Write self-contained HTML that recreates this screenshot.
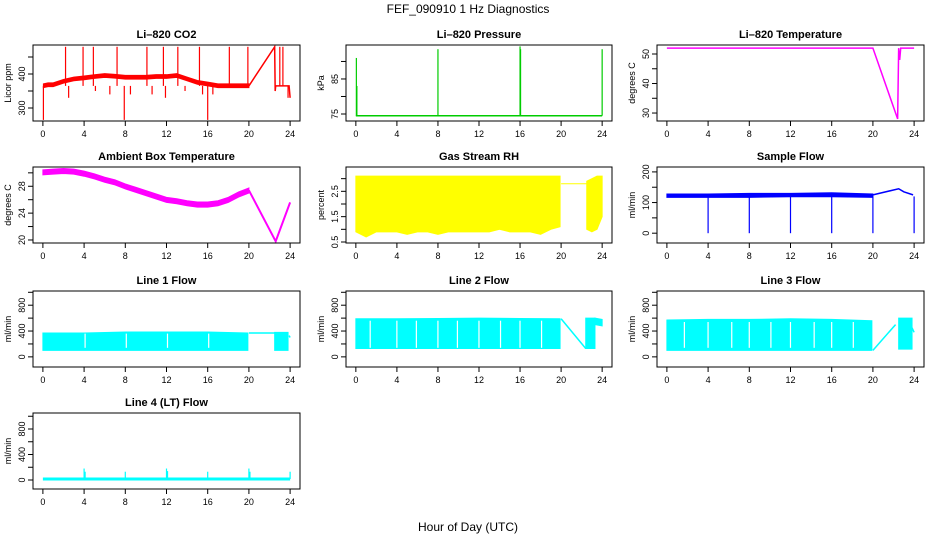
<!DOCTYPE html>
<html><head><meta charset="utf-8"><style>
body{margin:0;background:#fff;}
svg{display:block;font-family:"Liberation Sans",sans-serif;}
</style></head><body>
<svg id="fig" width="936" height="540" viewBox="0 0 936 540">
<text x="468" y="13" text-anchor="middle" font-size="12">FEF_090910  1 Hz Diagnostics</text>
<text x="468" y="531" text-anchor="middle" font-size="12">Hour of Day (UTC)</text>
</svg>
<script>
// ---- data ----
const xTicks = [0,4,8,12,16,20,24];
// CO2
const co2Times = [0.05,0.5,1,2,3,4,5,6,7,8,9,10,11,12,13,14,15,16,17,18,19,20];
const co2Vals  = [365,368,368,378,385,388,392,395,393,390,390,390,392,392,395,385,375,370,365,365,365,365];
const co2Line = [[20,365],[22.5,480],[22.55,350],[22.6,365],[23.9,365],[24,330]];
const co2Spikes = [[0.05,265],[2.2,480],[2.5,330],[3.9,480],[4.9,480],[5.1,350],[6.5,340],[7.2,480],[7.9,265],[8.5,340],[10.1,480],[10.6,340],[11.7,480],[11.9,330],[13.1,480],[13.8,350],[15.2,480],[15.5,340],[16,265],[16.5,340],[18.1,480],[19.9,480],[23,480],[23.3,480],[23.8,330]];
// Pressure
const presLine = [[0,74.5],[24,74.5]];
const presSpikes = [[0.05,91],[0.1,83],[8,93.5],[16,94.3],[16.05,93.5],[24,93.5]];
// Li-820 temperature
const tempLine = [[0,52],[20,52],[22.4,28],[22.5,52],[22.6,48],[22.7,52],[24,52]];
// Ambient
const ambTimes = [0,1,2,3,4,5,6,7,8,9,10,11,12,13,14,15,16,17,18,19,20];
const ambVals  = [30.1,30.2,30.3,30.2,29.9,29.5,29.0,28.6,28.0,27.5,27.0,26.5,26.0,25.8,25.5,25.3,25.3,25.5,26.0,26.8,27.4];
const ambLine = [[20,27.4],[22.6,19.8],[24,25.6]];
// RH
const rhTimes = [0,1,2,3,4,5,6,7,8,9,10,11,12,13,14,15,16,17,18,19,19.9];
const rhLow   = [0.9,0.7,0.9,0.9,0.9,0.8,0.9,0.9,0.8,0.9,0.9,0.9,0.9,0.9,1.0,0.9,0.9,0.9,0.8,1.0,1.1];
const rhHigh  = [3.1,3.1,3.1,3.1,3.1,3.1,3.1,3.1,3.1,3.1,3.1,3.1,3.1,3.1,3.1,3.1,3.1,3.1,3.1,3.1,3.1];
const rhLine = [[20,2.8],[22.5,2.8]];
const rhTimes2 = [22.5,23,23.5,24];
const rhLow2 = [1.0,0.9,1.0,1.5];
const rhHigh2 = [2.9,3.0,3.1,3.1];
// Sample flow
const sfTimes = [0,4,8,12,16,20];
const sfLow = [117,117,117,119,119,117];
const sfHigh = [128,128,130,130,132,128];
const sfLine = [[20,125],[22.5,145],[23,135],[23.9,125]];
const sfSpikes = [[4,0],[8,0],[12,0],[16,0],[20,0],[24,0]];
// Line flows
const l1Times = [0,4,8,12,16,19.9]; const l1Low=[100,100,100,100,100,100]; const l1High=[370,370,385,385,385,370];
const l1Line = [[20,370],[22.5,370]]; const l1Times2=[22.5,23.8]; const l1Low2=[100,100]; const l1High2=[380,380];
const l2Times = [0,4,8,12,16,19.9]; const l2Low=[130,130,130,130,130,130]; const l2High=[590,590,595,600,595,590];
const l2Line = [[20,590],[22.4,130]]; const l2Times2=[22.4,23.3]; const l2Low2=[130,130]; const l2High2=[600,600];
const l3Times = [0,4,8,12,16,19.9]; const l3Low=[100,100,100,100,100,100]; const l3High=[570,580,580,590,580,560];
const l3Line = [[20,100],[22.2,500]]; const l3Times2=[22.5,23.8]; const l3Low2=[120,120]; const l3High2=[600,600];
const flowGaps = [4,8,12,16];
const l4Line = [[0,15],[24,15]];
const l4Spikes = [[4,180],[4.1,130],[8,130],[12,180],[12.1,140],[16,130],[20,180],[20.1,130],[24,130]];

const svg = document.getElementById('fig');
const NS = 'http://www.w3.org/2000/svg';
function el(tag, attrs, parent){const e=document.createElementNS(NS,tag);for(const k in attrs)e.setAttribute(k,attrs[k]);(parent||svg).appendChild(e);return e;}

function panel(cfg){
  const g = el('g',{});
  
  
  const L=cfg.x0,R=cfg.x1,T=cfg.y0,B=cfg.y0+76;
  const X=t=>L+(t+0.96)/(25.92)*(R-L);
  const Y=v=>B-(v-cfg.lo)/(cfg.hi-cfg.lo)*(B-T);
  const c=cfg.color;
  const title=el('text',{x:(L+R)/2,y:T-7,'text-anchor':'middle','font-size':11,'font-weight':'bold'},g);
  title.textContent=cfg.title;
  
  
  (cfg.bands||[]).forEach(b=>{
    const [ts,lo,hi]=b;
    let pts=ts.map((t,i)=>X(t)+','+Y(hi[i])).concat(ts.map((t,i)=>X(t)+','+Y(lo[i])).reverse());
    const p=el('polygon',{points:pts.join(' '),fill:c,stroke:c,'stroke-width':1},g);
    
    
  });
  (cfg.gaps||[]).forEach(t=>{
    const p=el('line',{x1:X(t)+1,x2:X(t)+1,y1:Y(cfg.gapRange[0]),y2:Y(cfg.gapRange[1]),stroke:'#fff','stroke-width':1.2},g);
    
    
  });
  (cfg.lines||[]).forEach(ln=>{
    const p=el('polyline',{points:ln.map(d=>X(d[0])+','+Y(d[1])).join(' '),fill:'none',stroke:c,'stroke-width':cfg.lw||1.5},g);
    
    
  });
  (cfg.spikes||[]).forEach(s=>{
    const p=el('line',{x1:X(s[0]),x2:X(s[0]),y1:Y(cfg.base),y2:Y(s[1]),stroke:c,'stroke-width':1.2},g);
    
    
  });
  const bx=el('rect',{x:L,y:T,width:R-L,height:B-T,fill:'none',stroke:'#000','stroke-width':1},g);
  
  
  el('line',{x1:X(0),x2:X(24),y1:B,y2:B,stroke:'#000'},g);
  xTicks.forEach(t=>{
    el('line',{x1:X(t),x2:X(t),y1:B,y2:B+5,stroke:'#000'},g);
    const tx=el('text',{x:X(t),y:B+16,'text-anchor':'middle','font-size':9},g);
    tx.textContent=t;
    
    
  });
  const yt=cfg.yticks;
  el('line',{x1:L,x2:L,y1:Y(yt[0]),y2:Y(yt[yt.length-1]),stroke:'#000'},g);
  yt.forEach(v=>{
    el('line',{x1:L-5,x2:L,y1:Y(v),y2:Y(v),stroke:'#000'},g);
    if(cfg.ylabels.includes(v)){
      const tx=el('text',{x:0,y:0,'text-anchor':'middle','font-size':9,transform:`translate(${L-8},${Y(v)}) rotate(-90)`},g);
      tx.textContent=v;
      
      
    }
  });
  const yl=el('text',{x:0,y:0,'text-anchor':'middle','font-size':9,transform:`translate(${L-22},${(T+B)/2}) rotate(-90)`},g);
  yl.textContent=cfg.ylab;
  
  
}
const C1=[33,300],C2=[346,612],C3=[657,924],R1=45,R2=167,R3=291,R4=413;
const co2Lo=co2Vals.map(v=>v-5), co2Hi=co2Vals.map(v=>v+6);
const ambLo=ambVals.map(v=>v-0.4), ambHi=ambVals.map(v=>v+0.35);
const flowTicks=[0,200,400,600,800,1000];
panel({name:'co2-panel',title:'Li–820 CO2',x0:C1[0],x1:C1[1],y0:R1,lo:261.8,hi:485.3,color:'#ff0000',base:365,
  bands:[[co2Times,co2Lo,co2Hi]],lines:[co2Line],spikes:co2Spikes,yticks:[300,350,400,450],ylabels:[300,400],ylab:'Licor ppm'});
panel({name:'pressure-panel',title:'Li–820 Pressure',x0:C2[0],x1:C2[1],y0:R1,lo:73,hi:94.7,color:'#00cc00',base:74.5,
  lines:[presLine],spikes:presSpikes,yticks:[75,80,85,90],ylabels:[75,85],ylab:'kPa'});
panel({name:'li820-temperature-panel',title:'Li–820 Temperature',x0:C3[0],x1:C3[1],y0:R1,lo:27.3,hi:53.05,color:'#ff00ff',
  lines:[tempLine],yticks:[30,35,40,45,50],ylabels:[30,40,50],ylab:'degrees C'});
panel({name:'ambient-temperature-panel',title:'Ambient Box Temperature',x0:C1[0],x1:C1[1],y0:R2,lo:19.55,hi:30.87,color:'#ff00ff',lw:2,
  bands:[[ambTimes,ambLo,ambHi]],lines:[ambLine],yticks:[20,22,24,26,28,30],ylabels:[20,24,28],ylab:'degrees C'});
panel({name:'rh-panel',title:'Gas Stream RH',x0:C2[0],x1:C2[1],y0:R2,lo:0.46,hi:3.46,color:'#ffff00',lw:1,
  bands:[[rhTimes,rhLow,rhHigh],[rhTimes2,rhLow2,rhHigh2]],lines:[rhLine],yticks:[0.5,1,1.5,2,2.5,3],ylabels:[0.5,1.5,2.5],ylab:'percent'});
panel({name:'sample-flow-panel',title:'Sample Flow',x0:C3[0],x1:C3[1],y0:R2,lo:-32,hi:216,color:'#0000ff',base:120,
  bands:[[sfTimes,sfLow,sfHigh]],lines:[sfLine],spikes:sfSpikes,yticks:[0,50,100,150,200],ylabels:[0,100,200],ylab:'ml/min'});
panel({name:'line1-flow-panel',title:'Line 1 Flow',x0:C1[0],x1:C1[1],y0:R3,lo:-157,hi:1020,color:'#00ffff',gaps:flowGaps,gapRange:[140,360],
  bands:[[l1Times,l1Low,l1High],[l1Times2,l1Low2,l1High2]],lines:[l1Line,[[23.9,330],[24,300]]],yticks:flowTicks,ylabels:[0,400,800],ylab:'ml/min'});
panel({name:'line2-flow-panel',title:'Line 2 Flow',x0:C2[0],x1:C2[1],y0:R3,lo:-157,hi:1020,color:'#00ffff',gaps:[1.3,3.9,5.8,7.9,9.8,11.9,14,15.9,18],gapRange:[140,560],
  bands:[[l2Times,l2Low,l2High],[l2Times2,l2Low2,l2High2],[[23.3,24],[500,480],[600,580]]],lines:[l2Line],yticks:flowTicks,ylabels:[0,400,800],ylab:'ml/min'});
panel({name:'line3-flow-panel',title:'Line 3 Flow',x0:C3[0],x1:C3[1],y0:R3,lo:-157,hi:1020,color:'#00ffff',gaps:[1.6,3.9,6.2,7.9,10,11.9,14.2,15.9,18],gapRange:[140,540],
  bands:[[l3Times,l3Low,l3High],[l3Times2,l3Low2,l3High2]],lines:[l3Line,[[23.8,450],[24,380]]],yticks:flowTicks,ylabels:[0,400,800],ylab:'ml/min'});
panel({name:'line4-flow-panel',title:'Line 4 (LT) Flow',x0:C1[0],x1:C1[1],y0:R4,lo:-141,hi:1051,color:'#00ffff',base:15,lw:3,
  lines:[l4Line],spikes:l4Spikes,yticks:flowTicks,ylabels:[0,400,800],ylab:'ml/min'});
</script>
</body></html>
